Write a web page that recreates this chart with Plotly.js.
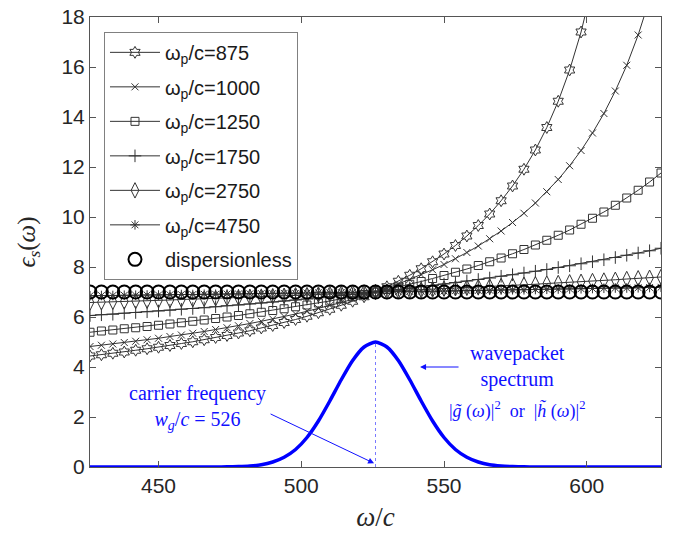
<!DOCTYPE html>
<html>
<head>
<meta charset="utf-8">
<script src="https://cdn.plot.ly/plotly-3.0.1.min.js"></script>
<style>html,body{margin:0;padding:0;background:#fff;}#chart{width:677px;height:535px;}</style>
</head>
<body>
<div id="chart"></div>
<script>
// omega/c sample points
const omega = [426,430,434,438,442,446,450,454,458,462,466,470,474,478,482,486,490,494,498,502,506,510,514,518,522,526,530,534,538,542,546,550,554,558,562,566,570,574,578,582,586,590,594,598,602,606,610,614,618,622,626];

const eps875 = [4.44,4.49,4.55,4.60,4.67,4.73,4.79,4.86,4.94,5.01,5.09,5.18,5.26,5.36,5.45,5.56,5.66,5.78,5.90,6.03,6.17,6.31,6.47,6.63,6.81,7.00,7.21,7.43,7.67,7.93,8.21,8.52,8.86,9.24,9.66,10.12,10.65,11.24,11.91,12.68,13.58,14.63,15.88,17.40,19.28,21.67,24.79,29.06,35.25,45.01,62.72];
const eps1000 = [4.82,4.87,4.92,4.98,5.03,5.09,5.15,5.22,5.28,5.35,5.42,5.50,5.57,5.65,5.74,5.83,5.92,6.02,6.12,6.23,6.34,6.46,6.58,6.71,6.85,7.00,7.16,7.32,7.50,7.69,7.89,8.10,8.33,8.58,8.84,9.13,9.44,9.78,10.15,10.56,11.01,11.50,12.05,12.66,13.36,14.14,15.04,16.07,17.28,18.71,20.43];
const eps1250 = [5.39,5.44,5.48,5.53,5.57,5.62,5.67,5.72,5.77,5.83,5.88,5.94,6.00,6.06,6.13,6.19,6.26,6.33,6.41,6.48,6.56,6.64,6.73,6.81,6.90,7.00,7.10,7.20,7.31,7.42,7.54,7.66,7.79,7.92,8.06,8.21,8.36,8.53,8.70,8.88,9.07,9.27,9.48,9.71,9.95,10.20,10.47,10.76,11.07,11.40,11.76];
const eps1750 = [6.06,6.09,6.11,6.15,6.18,6.21,6.24,6.27,6.31,6.34,6.37,6.41,6.45,6.48,6.52,6.56,6.60,6.64,6.68,6.72,6.77,6.81,6.86,6.90,6.95,7.00,7.05,7.10,7.15,7.21,7.26,7.32,7.38,7.44,7.50,7.56,7.63,7.69,7.76,7.83,7.90,7.98,8.05,8.13,8.21,8.29,8.38,8.47,8.56,8.65,8.75];
const eps2750 = [6.58,6.59,6.61,6.62,6.64,6.65,6.67,6.68,6.70,6.71,6.73,6.75,6.76,6.78,6.80,6.81,6.83,6.85,6.87,6.88,6.90,6.92,6.94,6.96,6.98,7.00,7.02,7.04,7.06,7.08,7.10,7.13,7.15,7.17,7.19,7.22,7.24,7.26,7.29,7.31,7.34,7.36,7.39,7.41,7.44,7.46,7.49,7.52,7.55,7.57,7.60];
const eps4750 = [6.85,6.86,6.86,6.87,6.87,6.88,6.88,6.89,6.90,6.90,6.91,6.91,6.92,6.92,6.93,6.94,6.94,6.95,6.95,6.96,6.97,6.97,6.98,6.99,6.99,7.00,7.01,7.01,7.02,7.03,7.03,7.04,7.05,7.06,7.06,7.07,7.08,7.09,7.09,7.10,7.11,7.12,7.12,7.13,7.14,7.15,7.16,7.16,7.17,7.18,7.19];
const epsConst = [7,7,7,7,7,7,7,7,7,7,7,7,7,7,7,7,7,7,7,7,7,7,7,7,7,7,7,7,7,7,7,7,7,7,7,7,7,7,7,7,7,7,7,7,7,7,7,7,7,7,7];
const spectrum = [0,0,0,0,0,0,0,0,0,0,0,0.002,0.006,0.016,0.04,0.09,0.20,0.39,0.70,1.18,1.84,2.64,3.49,4.26,4.80,5.00,4.80,4.26,3.49,2.64,1.84,1.18,0.70,0.39,0.20,0.09,0.04,0.016,0.006,0.002,0,0,0,0,0,0,0,0,0,0,0];

const carrierX = [526, 526];
const carrierY = [0, 5];

const seriesNames = ['ω<sub>p</sub>/c=875','ω<sub>p</sub>/c=1000','ω<sub>p</sub>/c=1250','ω<sub>p</sub>/c=1750','ω<sub>p</sub>/c=2750','ω<sub>p</sub>/c=4750','dispersionless'];
const xTicks = [450, 500, 550, 600];
const yTicks = [0, 2, 4, 6, 8, 10, 12, 14, 16, 18];

const lineCol = '#333333';
const styles = [
  {sym:'hexagram-open', size:9},
  {sym:'x-thin-open', size:7},
  {sym:'square-open', size:8},
  {sym:'cross-thin-open', size:9},
  {sym:'diamond-tall-open', size:11},
  {sym:'asterisk-open', size:8}
];
const seriesData = [eps875, eps1000, eps1250, eps1750, eps2750, eps4750];

const traces = seriesData.map((ys, i) => ({
  x: omega, y: ys, type:'scatter', mode:'lines+markers',
  name: seriesNames[i], legendgroup:'g'+i,
  line:{color:lineCol, width:1},
  marker:{symbol:styles[i].sym, size:styles[i].size, color:lineCol, line:{color:lineCol, width:1}}
}));
traces.push({
  x: omega, y: epsConst, type:'scatter', mode:'markers',
  name: seriesNames[6], legendgroup:'g6',
  marker:{symbol:'circle-open', size:13, color:'#000', line:{color:'#000', width:2}}
});
traces.push({
  x: carrierX, y: carrierY, type:'scatter', mode:'lines', showlegend:false,
  line:{color:'#7a7aff', width:1, dash:'dot'}
});
traces.push({
  x: omega, y: spectrum, type:'scatter', mode:'lines', showlegend:false,
  line:{color:'#0000ff', width:3.5, shape:'spline', smoothing:0.6}
});

const blue = '#1010ff';
const serif = 'Liberation Serif, Times New Roman, serif';
const layout = {
  width:677, height:535,
  margin:{l:90, r:16, t:17, b:68, pad:0},
  paper_bgcolor:'#fff', plot_bgcolor:'#fff',
  showlegend:true,
  font:{family:'Liberation Sans, Arial, sans-serif', size:21, color:'#262626'},
  xaxis:{
    range:[426, 626], tickvals:xTicks, ticks:'inside', ticklen:6, tickcolor:'#555',
    showline:true, linecolor:'#555', linewidth:1, mirror:'ticks', showgrid:false, zeroline:false,
    tickfont:{size:21, color:'#262626'},
    title:{text:'<i>ω</i>/<i>c</i>', font:{family:serif, size:27, color:'#262626'}, standoff:10}
  },
  yaxis:{
    range:[0, 18], tickvals:yTicks, ticks:'inside', ticklen:6, tickcolor:'#555',
    showline:true, linecolor:'#555', linewidth:1, mirror:'ticks', showgrid:false, zeroline:false,
    tickfont:{size:21, color:'#262626'},
    title:{text:'<i>ϵ</i><sub><i>s</i></sub>(<i>ω</i>)', font:{family:serif, size:25, color:'#262626'}, standoff:18}
  },
  legend:{
    x:0.0245, y:0.967, xanchor:'left', yanchor:'top',
    bgcolor:'#fff', bordercolor:'#808080', borderwidth:1,
    font:{family:'Liberation Sans, Arial, sans-serif', size:20, color:'#1a1a1a'},
    tracegroupgap:5.5, itemwidth:50
  },
  annotations:[
    {x:463.5, y:2.4, xref:'x', yref:'y', showarrow:false,
     text:'carrier frequency<br><i>w</i><sub><i>g</i></sub>/<i>c</i> = 526',
     font:{family:serif, size:20, color:blue}, align:'center'},
    {x:525.5, y:0.15, xref:'x', yref:'y', showarrow:true, ax:-105, ay:-50,
     arrowhead:2, arrowsize:1.2, arrowwidth:1, arrowcolor:blue, text:''},
    {x:575.6, y:4.02, xref:'x', yref:'y', showarrow:false,
     text:'wavepacket<br>spectrum',
     font:{family:serif, size:20, color:blue}, align:'center'},
    {x:575.4, y:2.28, xref:'x', yref:'y', showarrow:false,
     text:'|<i>g̃</i> (<i>ω</i>)|<sup>2</sup>  or  |<i>h̃</i> (<i>ω</i>)|<sup>2</sup>',
     font:{family:serif, size:18, color:blue}},
    {x:541.6, y:4.0, xref:'x', yref:'y', showarrow:true, ax:40, ay:0,
     arrowhead:2, arrowsize:1.2, arrowwidth:1, arrowcolor:blue, text:''}
  ]
};

Plotly.newPlot('chart', traces, layout, {displayModeBar:false, staticPlot:true});
</script>
</body>
</html>
